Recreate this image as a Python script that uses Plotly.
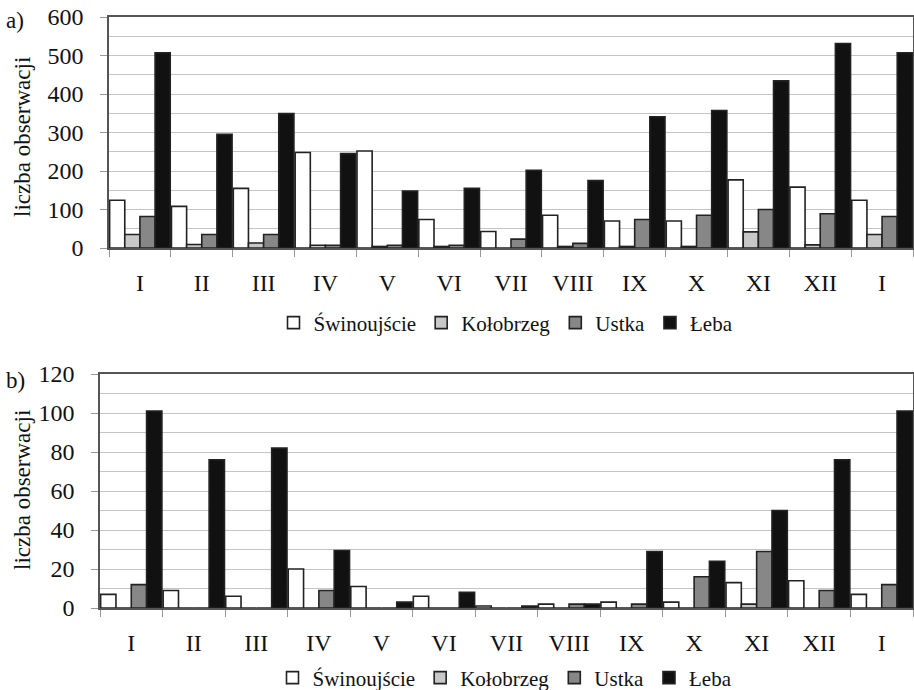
import plotly.graph_objects as go

months = ["I", "II", "III", "IV", "V", "VI", "VII", "VIII", "IX", "X", "XI", "XII", "I"]
stations = ["Świnoujście", "Kołobrzeg", "Ustka", "Łeba"]

# panel a)
a_swinoujscie = [124, 108, 155, 248, 252, 74, 43, 85, 70, 70, 177, 158, 124]
a_kolobrzeg = [35, 9, 13, 7, 4, 4, 0, 4, 4, 4, 42, 8, 35]
a_ustka = [82, 35, 35, 7, 7, 7, 23, 12, 74, 85, 100, 89, 82]
a_leba = [507, 295, 349, 245, 148, 155, 202, 175, 341, 357, 434, 531, 507]

# panel b)
b_swinoujscie = [7, 9, 6, 20, 11, 6, 1, 2, 3, 3, 13, 14, 7]
b_kolobrzeg = [0, 0, 0, 0, 0, 0, 0, 0, 0, 0, 2, 0, 0]
b_ustka = [12, 0, 0, 9, 0, 0, 0, 2, 2, 16, 29, 9, 12]
b_leba = [101, 76, 82, 29.5, 3, 8, 1, 2, 29, 24, 50, 76, 101]

fills = ["#ffffff", "#c8c8c8", "#878787", "#111111"]
FONT = "Liberation Serif"

pos = list(range(len(months)))

fig = go.Figure()
for name, vals, col in zip(stations, [a_swinoujscie, a_kolobrzeg, a_ustka, a_leba], fills):
    fig.add_trace(go.Bar(x=pos, y=vals, name=name, marker=dict(color=col, line=dict(color="#222222", width=1.6)),
                         xaxis="x", yaxis="y", legend="legend", offsetgroup=name))
for name, vals, col in zip(stations, [b_swinoujscie, b_kolobrzeg, b_ustka, b_leba], fills):
    fig.add_trace(go.Bar(x=pos, y=vals, name=name, marker=dict(color=col, line=dict(color="#222222", width=1.6)),
                         xaxis="x2", yaxis="y2", legend="legend2", offsetgroup=name))

def xax(domain, anchor):
    return dict(domain=domain, anchor=anchor, range=[-0.5, len(months) - 0.5], automargin=False,
                tickmode="array", tickvals=pos, ticktext=months, ticks="",
                showline=True, linecolor="#555555", linewidth=1.5, mirror=True,
                showgrid=False, zeroline=False,
                minor=dict(tick0=0.5, dtick=1, ticks="outside", ticklen=7, tickcolor="#999999", tickwidth=1, showgrid=False),
                tickfont=dict(family=FONT, size=24, color="#111111"), ticklabelstandoff=12)

def yax(domain, anchor, rng, dtick, mdtick):
    return dict(domain=domain, anchor=anchor, range=rng, dtick=dtick, tick0=0, automargin=False,
                ticks="outside", ticklen=7, tickcolor="#999999", tickwidth=1,
                showline=True, linecolor="#555555", linewidth=1.5, mirror=True,
                showgrid=True, gridcolor="#c4c4c4", gridwidth=1, zeroline=False,
                minor=dict(dtick=mdtick, showgrid=True, gridcolor="#c4c4c4", gridwidth=1),
                tickfont=dict(family=FONT, size=24, color="#111111"), ticklabelstandoff=12)

fig.update_layout(
    width=914, height=690,
    margin=dict(l=0, r=0, t=0, b=0, autoexpand=False),
    paper_bgcolor="white", plot_bgcolor="white",
    barmode="group", bargap=0.02, bargroupgap=0,
    font=dict(family=FONT, size=22, color="#111111"),
    xaxis=xax([109 / 914, 913 / 914], "y"),
    yaxis=yax([1 - 248 / 690, 1 - 17 / 690], "x", [0, 600], 100, 50),
    xaxis2=xax([100 / 914, 913 / 914], "y2"),
    yaxis2=yax([1 - 608 / 690, 1 - 374 / 690], "x2", [0, 120], 20, 10),
    legend=dict(orientation="h", x=506 / 914, y=1 - 323 / 690, xanchor="center", yanchor="middle",
                font=dict(family=FONT, size=21), itemwidth=30, bgcolor="rgba(0,0,0,0)"),
    legend2=dict(orientation="h", x=505 / 914, y=1 - 678 / 690, xanchor="center", yanchor="middle",
                 font=dict(family=FONT, size=21), itemwidth=30, bgcolor="rgba(0,0,0,0)"),
    annotations=[
        dict(text="a)", x=4 / 914, y=1 - 20 / 690, xref="paper", yref="paper", xanchor="left", yanchor="middle",
             showarrow=False, font=dict(family=FONT, size=23)),
        dict(text="b)", x=4 / 914, y=1 - 380 / 690, xref="paper", yref="paper", xanchor="left", yanchor="middle",
             showarrow=False, font=dict(family=FONT, size=23)),
        dict(text="liczba obserwacji", x=22 / 914, y=1 - 137 / 690, xref="paper", yref="paper", textangle=-90,
             xanchor="center", yanchor="middle", showarrow=False, font=dict(family=FONT, size=23)),
        dict(text="liczba obserwacji", x=22 / 914, y=1 - 490 / 690, xref="paper", yref="paper", textangle=-90,
             xanchor="center", yanchor="middle", showarrow=False, font=dict(family=FONT, size=23)),
    ],
)

fig.write_html("out.html", config={"displayModeBar": False},
               post_script="document.body.style.margin='0';document.body.style.padding='0';document.documentElement.style.overflow='hidden';")
